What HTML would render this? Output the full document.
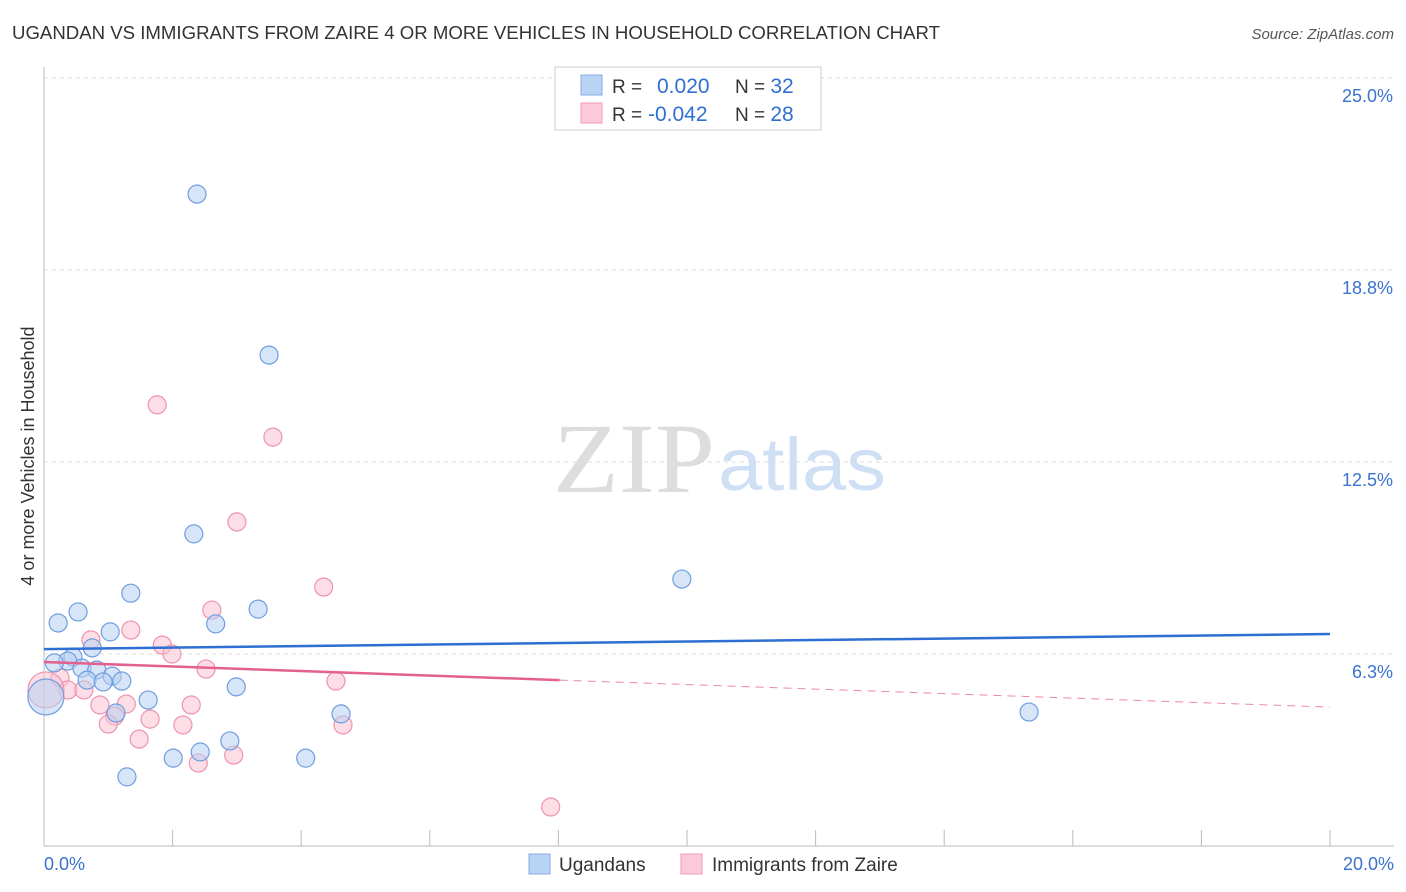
<!DOCTYPE html>
<html><head><meta charset="utf-8"><style>
body{margin:0;background:#fff;font-family:"Liberation Sans",sans-serif;}
#c{position:relative;width:1406px;height:892px;overflow:hidden;}
</style></head><body>
<div id="c">
<svg id="s" width="1406" height="892" xmlns="http://www.w3.org/2000/svg" style="position:absolute;left:0;top:0">
<text x="12" y="39" font-size="18" fill="#333" textLength="928" lengthAdjust="spacingAndGlyphs">UGANDAN VS IMMIGRANTS FROM ZAIRE 4 OR MORE VEHICLES IN HOUSEHOLD CORRELATION CHART</text>
<text x="1394" y="39" font-size="15" fill="#555" font-style="italic" text-anchor="end">Source: ZipAtlas.com</text>
<text x="34" y="456" font-size="18" fill="#333" text-anchor="middle" transform="rotate(-90 34 456)">4 or more Vehicles in Household</text>
<text x="553" y="492" font-size="100" fill="#ddd" font-family="Liberation Serif,serif" textLength="162" lengthAdjust="spacingAndGlyphs">ZIP</text>
<text x="718" y="490" font-size="74" fill="#cfe0f5" textLength="168" lengthAdjust="spacingAndGlyphs">atlas</text>
<g id="grid"></g><g id="axes"></g><g id="pts"></g><g id="trend"></g>
<rect x="555" y="67" width="266" height="63" fill="#fff" stroke="#ccc"/>
<rect x="581" y="75" width="21" height="20" fill="#b9d3f5" stroke="#86aee6"/>
<rect x="581" y="103" width="21" height="20" fill="#fbc9d8" stroke="#f09ab4"/>
<text x="612" y="93" font-size="19" fill="#333">R = <tspan x="657" font-size="21" fill="#2f6fd1">0.020</tspan><tspan x="735" fill="#333">N = </tspan><tspan font-size="21" fill="#2f6fd1">32</tspan></text>
<text x="612" y="121" font-size="19" fill="#333">R = <tspan x="648" font-size="21" fill="#2f6fd1">-0.042</tspan><tspan x="735" fill="#333">N = </tspan><tspan font-size="21" fill="#2f6fd1">28</tspan></text>
<rect x="529" y="854" width="21" height="20" fill="#b9d3f5" stroke="#86aee6"/>
<text x="559" y="871" font-size="19" fill="#333">Ugandans</text>
<rect x="681" y="854" width="21" height="20" fill="#fbc9d8" stroke="#f09ab4"/>
<text x="712" y="871" font-size="19" fill="#333">Immigrants from Zaire</text>
</svg>
</div>
<script>
const NS="http://www.w3.org/2000/svg";
const yTicks=[6.25,12.5,18.75,25];
const yTickLabels=["6.3%","12.5%","18.8%","25.0%"];
const xLabels=["0.0%","20.0%"];
const blueX=[2.38,3.50,2.33,9.92,1.35,0.53,3.33,0.22,2.67,1.03,0.75,0.45,0.37,0.16,0.59,0.82,1.06,0.67,0.92,1.21,2.99,1.62,1.12,4.62,15.32,2.89,2.43,2.01,4.07,1.29,0.03];
const blueY=[21.22,15.98,10.16,8.69,8.23,7.62,7.71,7.26,7.23,6.97,6.45,6.15,6.02,5.96,5.79,5.73,5.53,5.40,5.34,5.37,5.18,4.75,4.33,4.30,4.36,3.42,3.06,2.86,2.86,2.25,4.85];
const pinkX=[1.76,3.56,3.00,4.35,2.61,1.35,0.73,1.84,1.99,2.52,4.54,0.25,0.37,0.62,0.87,2.29,1.28,1.10,1.65,1.00,2.16,4.65,1.48,2.95,2.40,7.88,0.03];
const pinkY=[14.36,13.31,10.55,8.43,7.68,7.03,6.71,6.54,6.25,5.76,5.37,5.47,5.08,5.08,4.59,4.59,4.62,4.23,4.13,3.97,3.94,3.94,3.48,2.96,2.70,1.27,5.08];
const blueTrend=[6.41,6.90];
const pinkTrend=[5.99,4.52];
const pinkSolidEnd=8.02;
const X0=44,X1=1330,Y0=846,PX=(X1-X0)/20,PY=30.72;
const xs=v=>X0+v*PX, ys=v=>Y0-v*PY;
function mk(t,a,p){const e=document.createElementNS(NS,t);for(const k in a)e.setAttribute(k,a[k]);document.getElementById(p).appendChild(e);return e;}
yTicks.forEach((t,i)=>{
 const l=mk('line',{x1:X0,x2:1394,y1:ys(t),y2:ys(t),stroke:'#ddd','stroke-dasharray':'4 4'},'grid');
 
 
 const tx=mk('text',{x:1393,y:ys(t)+24,'font-size':18,fill:'#3a72d0','text-anchor':'end'},'grid');
 tx.textContent=yTickLabels[i];
 
 
});
const ax=mk('line',{x1:X0,x2:X0,y1:67,y2:Y0,stroke:'#bbb'},'axes');


const bx=mk('line',{x1:X0,x2:1394,y1:Y0,y2:Y0,stroke:'#bbb'},'axes');


for(let i=0;i<=10;i++){const t=mk('line',{x1:xs(i*2),x2:xs(i*2),y1:830,y2:Y0,stroke:'#bbb'},'axes');
 
 }
[[0,'start',X0],[20,'end',1394]].forEach((d,i)=>{const t=mk('text',{x:d[2],y:870,'font-size':18,fill:'#3a72d0','text-anchor':d[1]},'axes');t.textContent=xLabels[i];
 
 });
function pts(X,Y,f,s,n){X.forEach((x,i)=>{const big=i===X.length-1;const c=mk('circle',{cx:xs(x),cy:ys(Y[i]),r:big?18:9,fill:f,'fill-opacity':0.55,stroke:s,'stroke-width':1.2},'pts');
 
 });}
pts(pinkX,pinkY,'#fbc3d3','#ee93ae','point-zaire');
pts(blueX,blueY,'#b7d0f2','#6f9de0','point-ugandan');
const bl=mk('line',{x1:xs(0),y1:ys(blueTrend[0]),x2:xs(20),y2:ys(blueTrend[1]),stroke:'#2d6fd3','stroke-width':2.5},'trend');


const py=x=>pinkTrend[0]+(pinkTrend[1]-pinkTrend[0])*x/20;
const pl=mk('line',{x1:xs(0),y1:ys(py(0)),x2:xs(pinkSolidEnd),y2:ys(py(pinkSolidEnd)),stroke:'#e5618d','stroke-width':2.5},'trend');


const pd=mk('line',{x1:xs(pinkSolidEnd),y1:ys(py(pinkSolidEnd)),x2:xs(20),y2:ys(py(20)),stroke:'#e98aa9','stroke-width':1,'stroke-dasharray':'8 6'},'trend');


</script>
</body></html>
